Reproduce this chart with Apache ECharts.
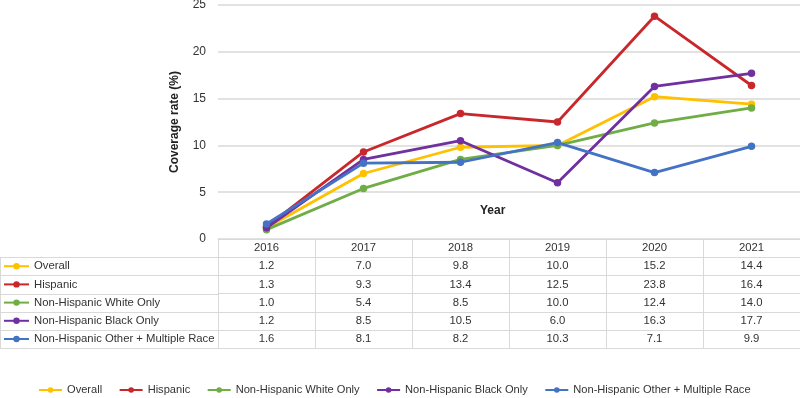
<!DOCTYPE html>
<html>
<head>
<meta charset="utf-8">
<script src="https://cdn.jsdelivr.net/npm/echarts@6/dist/echarts.min.js"></script>
<style>
  html, body { margin: 0; padding: 0; background: #fff; }
  #chart { width: 800px; height: 398px; }
</style>
</head>
<body>
<div id="chart"></div>
<script>
const years = ['2016', '2017', '2018', '2019', '2020', '2021']
const overall = [1.2, 7.0, 9.8, 10.0, 15.2, 14.4]
const hispanic = [1.3, 9.3, 13.4, 12.5, 23.8, 16.4]
const whiteOnly = [1.0, 5.4, 8.5, 10.0, 12.4, 14.0]
const blackOnly = [1.2, 8.5, 10.5, 6.0, 16.3, 17.7]
const otherMulti = [1.6, 8.1, 8.2, 10.3, 7.1, 9.9]
const seriesNames = ['Overall', 'Hispanic', 'Non-Hispanic White Only', 'Non-Hispanic Black Only', 'Non-Hispanic Other + Multiple Race']
const seriesValues = [overall, hispanic, whiteOnly, blackOnly, otherMulti]
const colors = ['#FFC000', '#C8282C', '#70AD47', '#7030A0', '#4472C4']

const FONT = '"Liberation Sans", Arial, sans-serif'
const gridLeft = 218
const axisY = 239
const rowH = 18.2
const border = '#d9d9d9'

const chart = echarts.init(document.getElementById('chart'))

// table rows: header (years) + one row per series, drawn as stacked x axes
const tableRows = [years].concat(seriesValues.map((vals) => vals.map((v) => v.toFixed(1))))

const xAxes = tableRows.map((vals, k) => ({
  type: 'category',
  data: years,
  position: 'bottom',
  offset: k * rowH,
  boundaryGap: true,
  axisLine: { show: true, lineStyle: { color: border, width: 1 } },
  axisTick: { show: true, interval: 0, length: rowH, lineStyle: { color: border } },
  axisLabel: {
    interval: 0,
    margin: rowH / 2,
    verticalAlign: 'middle',
    fontFamily: FONT,
    fontSize: 11.3,
    color: '#333',
    formatter: (v, i) => vals[i],
  },
  splitLine: { show: false },
}))
// bottom border of the table
xAxes.push({
  type: 'category',
  data: years,
  position: 'bottom',
  offset: tableRows.length * rowH,
  axisLine: { show: true, lineStyle: { color: border } },
  axisTick: { show: false },
  axisLabel: { show: false },
})

const leftLines = []
for (let k = 1; k <= seriesNames.length + 1; k++) {
  const y = Math.round(axisY + k * rowH) + 0.5
  leftLines.push({
    type: 'line',
    shape: { x1: 0, y1: y, x2: gridLeft, y2: y },
    style: { stroke: border, lineWidth: 1 },
  })
}
leftLines.push({
  type: 'line',
  shape: { x1: 0.5, y1: axisY + rowH, x2: 0.5, y2: axisY + (seriesNames.length + 1) * rowH },
  style: { stroke: border, lineWidth: 1 },
})

chart.setOption({
  backgroundColor: '#fff',
  animation: false,
  color: colors,
  textStyle: { fontFamily: FONT },
  grid: {
    left: gridLeft,
    right: 0,
    top: 5,
    bottom: 398 - axisY,
    containLabel: false,
    outerBoundsMode: 'none',
  },
  legend: [
    {
      orient: 'vertical',
      left: 3,
      top: axisY + rowH + 2,
      padding: 0,
      itemWidth: 25,
      itemHeight: 8,
      itemGap: rowH - 14,
      textStyle: { fontFamily: FONT, fontSize: 11.3, color: '#333', lineHeight: 14 },
      data: seriesNames,
      selectedMode: false,
    },
    {
      orient: 'horizontal',
      left: 38,
      top: 383,
      padding: 0,
      itemWidth: 23,
      itemHeight: 7,
      itemGap: 16.5,
      textStyle: { fontFamily: FONT, fontSize: 11.1, color: '#333', lineHeight: 14 },
      data: seriesNames,
      selectedMode: false,
    },
  ],
  xAxis: xAxes,
  yAxis: {
    type: 'value',
    min: 0,
    max: 25,
    interval: 5,
    name: 'Coverage rate (%)',
    nameLocation: 'middle',
    nameGap: 37,
    nameTextStyle: { fontFamily: FONT, fontSize: 12, fontWeight: 'bold', color: '#222' },
    axisLine: { show: false },
    axisTick: { show: false },
    axisLabel: { fontFamily: FONT, fontSize: 12, color: '#333', margin: 12 },
    splitLine: { lineStyle: { color: border, width: 1.5 } },
  },
  graphic: leftLines.concat([
    {
      type: 'text',
      left: 480,
      top: 205,
      style: { text: 'Year', font: 'bold 12px ' + FONT, fill: '#222' },
    },
  ]),
  series: seriesNames.map((name, i) => ({
    name,
    type: 'line',
    data: seriesValues[i],
    symbol: 'circle',
    symbolSize: 7.5,
    lineStyle: { width: 2.8, color: colors[i] },
    itemStyle: { color: colors[i] },
  })),
})
</script>
</body>
</html>
